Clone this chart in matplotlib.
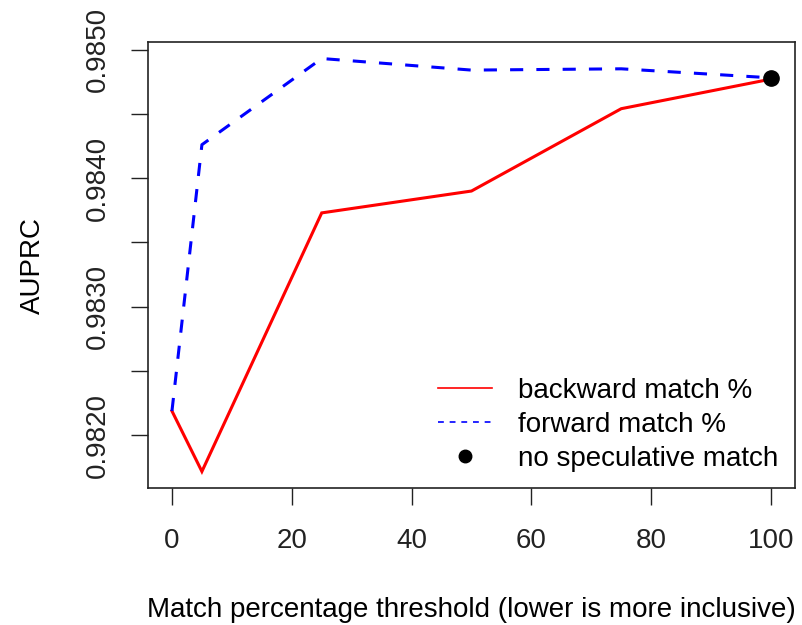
import matplotlib
matplotlib.use("Agg")
import matplotlib.pyplot as plt
from matplotlib.lines import Line2D
import numpy as np

plt.rcParams['font.family'] = ['Liberation Sans', 'DejaVu Sans']

# valeurs
thresholds = [0, 5, 25, 50, 75, 100]
backward = [0.98219, 0.98172, 0.98373, 0.98390, 0.98454, 0.98477]
forward = [0.98219, 0.98426, 0.98493, 0.98484, 0.98485, 0.98478]
no_spec_x = [100]
no_spec_y = [0.98478]

ytick_vals = np.arange(0.9820, 0.98501, 0.0005)
ytick_labels = ['0.9820', '', '0.9830', '', '0.9840', '', '0.9850']
xtick_vals = [0, 20, 40, 60, 80, 100]

fig = plt.figure(figsize=(8.03, 6.25), dpi=100)
ax = fig.add_axes([0.1843, 0.2192, 0.8057, 0.7136])

ax.plot(thresholds, backward, color='red', lw=2.2, solid_joinstyle='miter')
ax.plot(thresholds, forward, color='blue', lw=2.2, dashes=(4.3, 4.3))
ax.plot(no_spec_x, no_spec_y, 'o', color='black', ms=11)

ax.margins(x=0.04, y=0.04)

ax.set_xticks(xtick_vals)
ax.set_yticks(ytick_vals)
ax.set_yticklabels(ytick_labels, rotation=90, va='center')
ax.tick_params(direction='out', length=12.5, width=1, labelsize=20, colors='#222222')
ax.tick_params(axis='x', pad=16)
ax.tick_params(axis='y', pad=14)
for s in ax.spines.values():
    s.set_linewidth(1.2)
    s.set_color('#222222')

ax.set_xlabel('Match percentage threshold (lower is more inclusive)', fontsize=20, labelpad=31)
ax.set_ylabel('AUPRC', fontsize=20, labelpad=28)

handles = [
    Line2D([], [], color='red', lw=1.2),
    Line2D([], [], color='blue', lw=1.2, dashes=(3.5, 3.5)),
    Line2D([], [], color='black', marker='o', ls='none', ms=9),
]
labels = ['backward match %', 'forward match %', 'no speculative match']
ax.legend(handles, labels, loc='upper left', bbox_to_anchor=(0.448, 0.247), frameon=False,
          borderpad=0, borderaxespad=0,
          fontsize=20, handlelength=1.95, handletextpad=0.93, labelspacing=0.29)

fig.savefig('out.png', dpi=100)
